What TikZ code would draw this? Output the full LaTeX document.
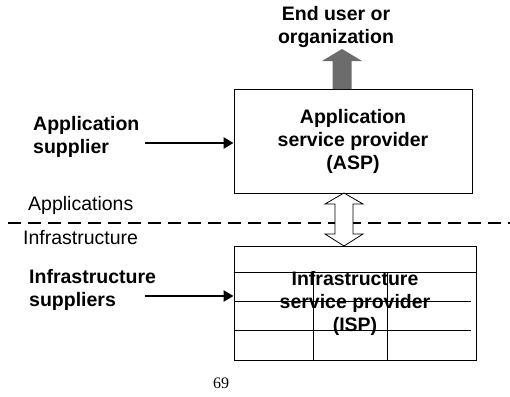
\documentclass[tikz,border=0pt]{standalone}
\usepackage{fontspec}
\setmainfont{Liberation Sans}
\newfontfamily\pagefont{Liberation Serif}
\usepackage{tikz}
\usetikzlibrary{positioning}
\usetikzlibrary{arrows.meta}
\usetikzlibrary{calc}
\definecolor{upgray}{RGB}{108,108,108}

\begin{document}
\begin{tikzpicture}[x=1pt,y=-1pt]
	\useasboundingbox (0,0) rectangle (510,396);
	\tikzset{txt/.style={font=\fontsize{19.5}{23}\selectfont, inner sep=0pt}}

	% layer line
	\coordinate (dl) at (8,223);
	\coordinate (dr) at (510,223);
	\draw [line width=2.6pt, dash pattern=on 13pt off 7pt] (dl) -- (dr);

	\begin{scope}[every node/.style={draw=black,line width=0.9pt,rectangle,
	              txt,font=\fontsize{19.5}{23}\selectfont\bfseries,align=center}]
	    \node [minimum width=238, minimum height=104] (asp) at (353,141)
	        {Application\\service provider\\(ASP)};
	    \node [minimum width=242, minimum height=114] (isp) at (355,303)
	        {Infrastructure\\service provider\\(ISP)};
	\end{scope}

	% grid inside the ISP box
	\begin{scope}[line width=0.9pt]
	    \draw (isp.west |- 0,272) -- (isp.east |- 0,272);
	    \draw (isp.west |- 0,301) -- (471,301);
	    \draw (isp.west |- 0,330) -- (471,330);
	    \draw (313,272) -- (313,272 |- isp.south);
	    \draw (387,272) -- (387,272 |- isp.south);
	\end{scope}

	\begin{scope}[every node/.style={txt,font=\fontsize{19.5}{23}\selectfont\bfseries}]
	    \node [align=center] (user) at (336,27) {End user or\\organization};
	    \node [align=left, anchor=west] (appsup) at (33,137) {Application\\supplier};
	    \node [align=left, anchor=west] (infsup) at (29,290) {Infrastructure\\suppliers};
	\end{scope}

	\node [txt, anchor=west] (apps) at (28,205) {Applications};
	\node [txt, anchor=west] (infra) at (23,238) {Infrastructure};
	\node [inner sep=0pt, font=\pagefont\fontsize{16}{18}\selectfont] (page) at (221,383) {69};

	% supplier arrows
	\coordinate (a1) at (145,143);
	\coordinate (a2) at (145,296);
	\begin{scope}[>={Triangle[length=10pt,width=11pt]}, line width=2.8pt]
	    \draw [->] (a1) -- (a1 -| asp.west);
	    \draw [->] (a2) -- (a2 -| isp.west);
	\end{scope}

	% arrow up to the end user
	\coordinate (up) at (342,89);
	\fill [upgray] (up) ++(-9.5,0) -- ++(0,-28) -- ++(-10.5,0) -- (342,49)
	    -- (362,61) -- ++(-10.5,0) -- ++(0,28) -- cycle;

	% two way arrow between the layers
	\coordinate (tw) at (344,193);
	\draw [fill=white, line width=0.8pt] (tw) -- ++(19,11) -- ++(-10,0) -- ++(0,30)
	    -- ++(10,0) -- (344,246) -- ++(-19,-12) -- ++(10,0) -- ++(0,-30)
	    -- ++(-10,0) -- cycle;
\end{tikzpicture}
\end{document}
